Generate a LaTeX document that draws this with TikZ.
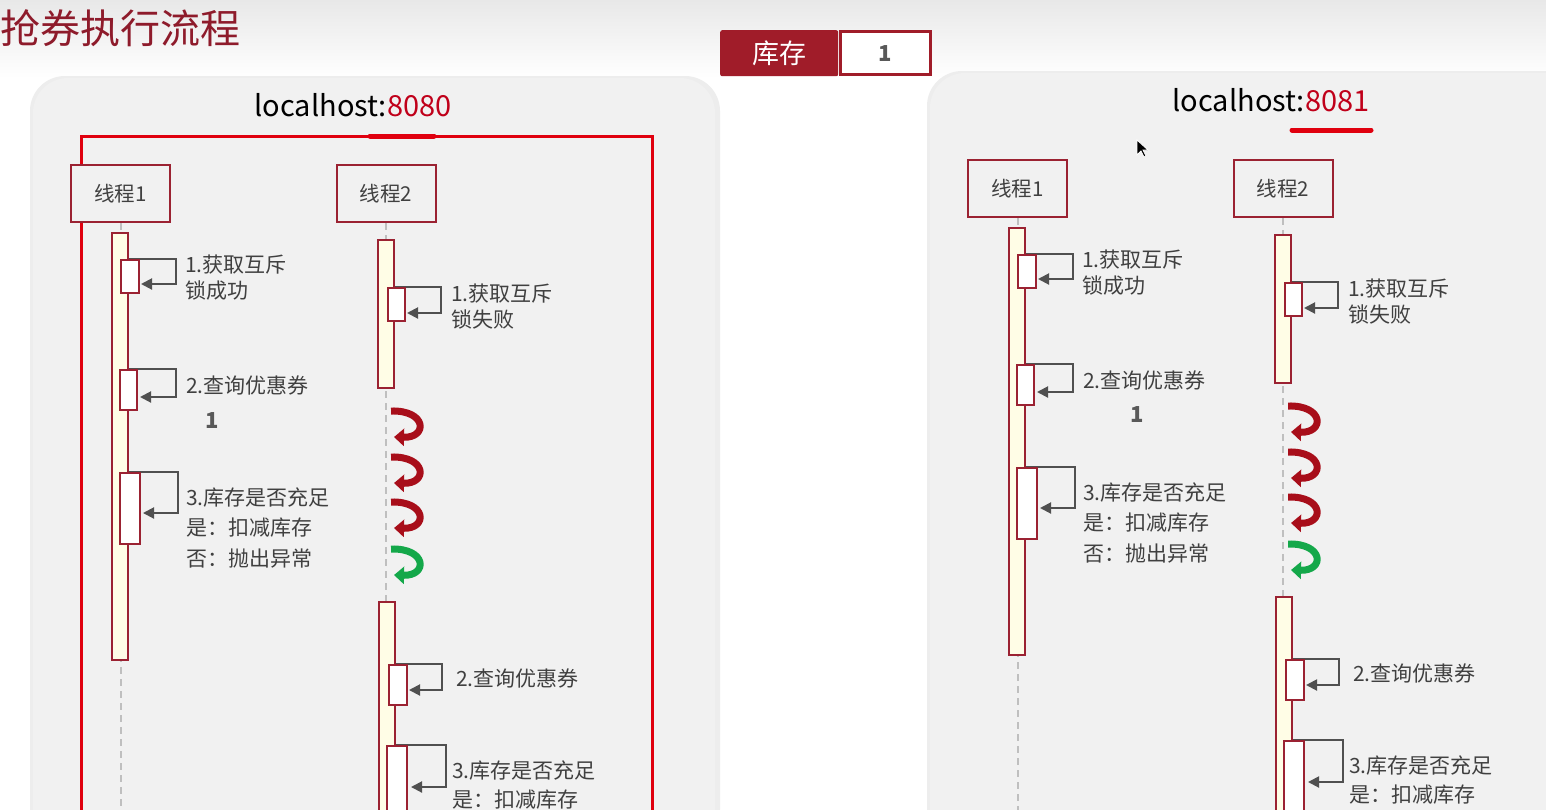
\documentclass[tikz,border=0pt]{standalone}
\usepackage{fontspec}
\newfontfamily\cjk{Noto Sans CJK SC}
\usetikzlibrary{calc,arrows.meta}
\definecolor{dred}{HTML}{9B2232}
\definecolor{titred}{HTML}{8E1B2B}
\definecolor{bred}{HTML}{E0000F}
\definecolor{portred}{HTML}{C0001A}
\definecolor{txt}{HTML}{404040}
\definecolor{arr}{HTML}{505050}
\definecolor{panelc}{HTML}{F1F1F1}
\definecolor{barfill}{HTML}{FFFDE6}
\definecolor{curvred}{HTML}{A80E1A}
\definecolor{curvgreen}{HTML}{14A84A}
\definecolor{stockc}{HTML}{A01C29}
\tikzset{
  thread/.style={draw=dred, line width=2pt, fill=panelc, minimum width=99pt, minimum height=57pt, inner sep=0pt, font=\cjk\fontsize{20.5}{24}\selectfont, text=txt},
  life/.style={draw=gray!50, line width=2pt, dash pattern=on 7pt off 5pt},
  bar/.style={draw=dred, line width=2pt, fill=barfill, minimum width=16pt, inner sep=0pt, anchor=north},
  act/.style={line width=2pt, inner sep=0pt, anchor=north west},
  actshow/.style={draw=dred, fill=white},
  actghost/.style={},
  loopline/.style={draw=arr, line width=2pt, -{Triangle[length=11pt,width=11pt]}},
  lbl/.style={font=\cjk\fontsize{21}{#1}\selectfont, text=txt, inner sep=0pt, anchor=west, align=left},
  lbl/.default=26,
  curv/.style={line width=7pt, -{Triangle[length=10pt,width=17pt]}},
}
\newcommand\selfloop[5]{\draw[loopline] (#1.north -| #2.east) -| (#3,#4) -- (#5,#4);}
\newcommand\curl[2]{\draw[curv, draw=#1] (#2) ++(0,5) .. controls +(36,-1) and +(34,1) .. ++(3,26);}
\newcommand\acts[2]{%
  \node[act, #2, minimum width=18pt, minimum height=33pt] (#1a1) at (120,259) {};
  \node[act, #2, minimum width=17pt, minimum height=40pt] (#1a2) at (119,369) {};
  \node[act, #2, minimum width=20pt, minimum height=71pt] (#1a3) at (119,472) {};
  \node[act, #2, minimum width=17pt, minimum height=33pt] (#1b1) at (387,287) {};
  \node[act, #2, minimum width=18pt, minimum height=40pt] (#1c2b) at (388,664) {};
  \node[act, #2, minimum width=20pt, minimum height=150pt] (#1c3b) at (386,745) {};
}
\newcommand\lanes[1]{%
  \node[thread] (#1th1) at (120.5,193.5) {线程1};
  \node[thread] (#1th2) at (386,193.5) {线程2};
  \draw[life] (#1th1.south) -- ++(0,620);
  \draw[life] (#1th2.south) -- ++(0,620);
  \node[bar, minimum height=427pt] (#1bar1) at (120,232) {};
  \node[bar, minimum height=148pt] (#1bar2) at (386,239) {};
  \node[bar, minimum height=300pt] (#1bar3) at (387,601) {};
  \acts{#1}{actghost}
  \selfloop{#1a1}{#1bar1}{176}{284}{141}
  \selfloop{#1a2}{#1bar1}{176}{397}{140}
  \selfloop{#1a3}{#1bar1}{178}{513}{143}
  \selfloop{#1b1}{#1bar2}{441}{313}{407}
  \selfloop{#1c2b}{#1bar3}{442}{690}{409}
  \selfloop{#1c3b}{#1bar3}{446}{787}{411}
  \acts{#1}{actshow}
  \node[lbl] (#1l1) at (185,278) {1.获取互斥\\锁成功};
  \node[lbl] (#1l2) at (186,385) {2.查询优惠券};
  \node[lbl=30.5] (#1l3) at (186,527.5) {3.库存是否充足\\是：扣减库存\\否：抛出异常};
  \node[lbl] (#1m1) at (451,306.5) {1.获取互斥\\锁失败};
  \node[lbl] (#1n2) at (456,678) {2.查询优惠券};
  \node[lbl=29] (#1n3) at (452,785.5) {3.库存是否充足\\是：扣减库存};
  \coordinate (#1k1) at (391,406);
  \coordinate (#1k2) at (391,452);
  \coordinate (#1k3) at (391,497);
  \coordinate (#1k4) at (391,544);
  \curl{curvred}{#1k1}
  \curl{curvred}{#1k2}
  \curl{curvred}{#1k3}
  \curl{curvgreen}{#1k4}
}
\begin{document}
\begin{tikzpicture}[x=1pt,y=-1pt]
\useasboundingbox (0,0) rectangle (1546,809);
\clip (0,0) rectangle (1546,809);
\fill[white] (0,0) rectangle (1546,809);
\shade[top color=black!9, bottom color=white] (0,0) rectangle (1546,78);
% title
\node[font=\cjk\fontsize{40}{44}\selectfont, text=titred, inner sep=0pt, anchor=west] (title) at (0,28) {抢券执行流程};
% stock box
\node[fill=stockc, minimum width=118pt, minimum height=46pt, inner sep=0pt, anchor=north west, font=\cjk\fontsize{27}{30}\selectfont, text=white, rounded corners=2pt] (stockL) at (720,30) {库存};
\node[draw=stockc, line width=3pt, fill=white, minimum width=90pt, minimum height=43pt, inner sep=0pt, anchor=west, font=\cjk\bfseries\fontsize{22}{26}\selectfont, text=black!65] (stockR) at ($(stockL.east)+(0.5,0)$) {1};
% panels
\fill[black!7, rounded corners=35pt] (30,76) rectangle (720,900);
\fill[panelc, rounded corners=35pt] (33,78) rectangle (715,900);
\fill[black!7, rounded corners=35pt] (927,71) rectangle (1600,900);
\fill[panelc, rounded corners=35pt] (930,73) rectangle (1600,900);
% left panel
\node[font=\cjk\fontsize{29}{34}\selectfont, inner sep=0pt] (host1) at (353,105) {localhost:\textcolor{portred}{8080}};
\draw[bred, line width=3pt] (81,136) rectangle (652,900);
\draw[bred, line width=5pt, line cap=round] (370,136) -- (434,136);
\lanes{L}
\node[font=\cjk\bfseries\fontsize{22}{26}\selectfont, text=black!65, inner sep=0pt] (one1) at (212,421) {1};
% right panel
\node[font=\cjk\fontsize{29}{34}\selectfont, inner sep=0pt] (host2) at (1271,100) {localhost:\textcolor{portred}{8081}};
\draw[bred, line width=5pt, line cap=round] (1292,130) -- (1371,130);
\begin{scope}[shift={(897,-5)}]
\lanes{R}
\end{scope}
\node[font=\cjk\bfseries\fontsize{22}{26}\selectfont, text=black!65, inner sep=0pt] (one2) at (1137,415) {1};
% mouse cursor
\filldraw[fill=black, draw=white, line width=0.8pt] (1137,140) -- (1137,155) -- (1141,151) -- (1144,157) -- (1146,156) -- (1143,150) -- (1148,150) -- cycle;
\end{tikzpicture}
\end{document}
